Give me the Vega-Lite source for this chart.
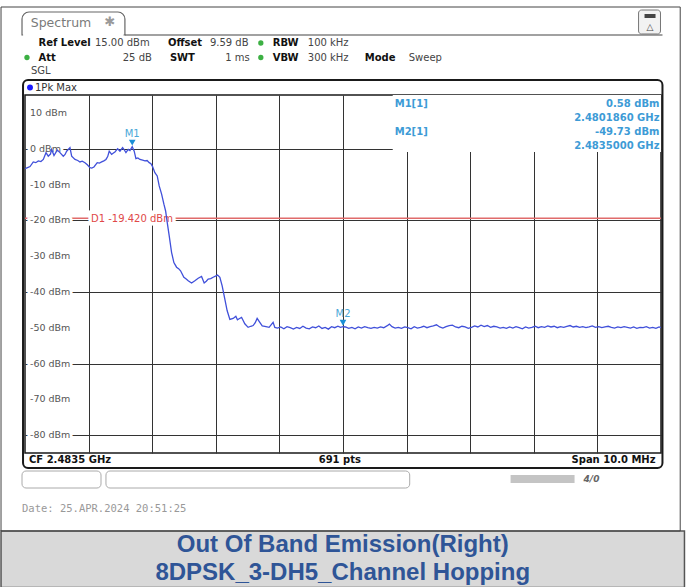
{
"$schema": "https://vega.github.io/schema/vega-lite/v6.json",
"width": 636, "height": 358,
"autosize": {"type": "none"},
"padding": {"left": 25, "top": 95, "right": 25, "bottom": 134},
"background": "white",
"config": {"view": {"stroke": "#1a1a1a", "strokeWidth": 1.5}, "text": {"font": "DejaVu Sans"}},
"data": {"values": [{}]},
"datasets": {
"trace": [
{"f":2478.500,"p":-5.6},{"f":2478.540,"p":-5.3},{"f":2478.579,"p":-5.0},{"f":2478.630,"p":-3.7},{"f":2478.670,"p":-3.9},{"f":2478.709,"p":-3.4},{"f":2478.750,"p":-3.6},{"f":2478.788,"p":-3.0},{"f":2478.830,"p":-1.1},{"f":2478.866,"p":-2.1},{"f":2478.900,"p":-1.5},{"f":2478.919,"p":-0.2},{"f":2478.956,"p":-1.9},{"f":2479.007,"p":-0.4},{"f":2479.050,"p":-1.1},{"f":2479.102,"p":-2.1},{"f":2479.130,"p":-1.6},{"f":2479.155,"p":-0.7},{"f":2479.207,"p":0.3},{"f":2479.234,"p":-2.1},{"f":2479.286,"p":-3.0},{"f":2479.330,"p":-3.3},{"f":2479.364,"p":-3.7},{"f":2479.400,"p":-3.5},{"f":2479.443,"p":-3.9},{"f":2479.480,"p":-4.5},{"f":2479.521,"p":-5.3},{"f":2479.550,"p":-5.4},{"f":2479.584,"p":-5.1},{"f":2479.636,"p":-3.9},{"f":2479.670,"p":-4.0},{"f":2479.705,"p":-3.7},{"f":2479.740,"p":-3.4},{"f":2479.773,"p":-3.0},{"f":2479.800,"p":-2.2},{"f":2479.824,"p":-0.7},{"f":2479.862,"p":-1.6},{"f":2479.890,"p":-1.2},{"f":2479.914,"p":-0.9},{"f":2479.957,"p":0.0},{"f":2479.993,"p":-0.7},{"f":2480.035,"p":0.3},{"f":2480.060,"p":-0.3},{"f":2480.087,"p":-1.1},{"f":2480.123,"p":-0.2},{"f":2480.150,"p":-0.5},{"f":2480.186,"p":0.58},{"f":2480.217,"p":-0.7},{"f":2480.244,"p":-2.8},{"f":2480.275,"p":-2.6},{"f":2480.307,"p":-3.0},{"f":2480.350,"p":-3.2},{"f":2480.385,"p":-3.4},{"f":2480.420,"p":-3.3},{"f":2480.453,"p":-3.9},{"f":2480.480,"p":-4.2},{"f":2480.506,"p":-5.0},{"f":2480.542,"p":-6.7},{"f":2480.579,"p":-7.6},{"f":2480.610,"p":-10.4},{"f":2480.648,"p":-12.7},{"f":2480.684,"p":-15.5},{"f":2480.711,"p":-17.4},{"f":2480.736,"p":-20.6},{"f":2480.767,"p":-24.3},{"f":2480.805,"p":-29.0},{"f":2480.841,"p":-31.8},{"f":2480.883,"p":-33.1},{"f":2480.915,"p":-33.5},{"f":2480.946,"p":-34.1},{"f":2480.998,"p":-35.9},{"f":2481.030,"p":-36.3},{"f":2481.066,"p":-36.9},{"f":2481.119,"p":-37.5},{"f":2481.171,"p":-36.9},{"f":2481.223,"p":-36.2},{"f":2481.276,"p":-35.7},{"f":2481.317,"p":-37.5},{"f":2481.350,"p":-37.0},{"f":2481.380,"p":-36.4},{"f":2481.420,"p":-36.3},{"f":2481.458,"p":-35.9},{"f":2481.528,"p":-35.3},{"f":2481.564,"p":-35.9},{"f":2481.600,"p":-38.3},{"f":2481.642,"p":-42.0},{"f":2481.678,"p":-45.2},{"f":2481.721,"p":-47.7},{"f":2481.773,"p":-47.4},{"f":2481.815,"p":-46.8},{"f":2481.840,"p":-47.8},{"f":2481.867,"p":-47.5},{"f":2481.905,"p":-47.1},{"f":2481.956,"p":-48.9},{"f":2482.008,"p":-49.9},{"f":2482.050,"p":-49.6},{"f":2482.087,"p":-49.4},{"f":2482.120,"p":-48.6},{"f":2482.150,"p":-47.4},{"f":2482.192,"p":-48.5},{"f":2482.230,"p":-49.5},{"f":2482.271,"p":-49.6},{"f":2482.338,"p":-49.9},{"f":2482.401,"p":-48.5},{"f":2482.428,"p":-49.9},
{"f":2482.47,"p":-50.1},{"f":2482.52,"p":-49.8},{"f":2482.57,"p":-50.3},{"f":2482.62,"p":-49.7},{"f":2482.67,"p":-50.0},{"f":2482.72,"p":-50.4},{"f":2482.77,"p":-49.9},{"f":2482.82,"p":-50.2},{"f":2482.87,"p":-49.6},{"f":2482.92,"p":-50.1},{"f":2482.97,"p":-50.3},{"f":2483.02,"p":-49.8},{"f":2483.07,"p":-50.0},{"f":2483.12,"p":-49.5},{"f":2483.17,"p":-50.2},{"f":2483.22,"p":-49.9},{"f":2483.27,"p":-50.4},{"f":2483.32,"p":-49.7},{"f":2483.37,"p":-50.0},{"f":2483.42,"p":-49.6},{"f":2483.46,"p":-49.9},{"f":2483.50,"p":-49.73},{"f":2483.54,"p":-49.8},{"f":2483.59,"p":-50.2},{"f":2483.64,"p":-49.9},{"f":2483.69,"p":-50.3},{"f":2483.74,"p":-49.8},{"f":2483.79,"p":-50.1},{"f":2483.84,"p":-49.7},{"f":2483.89,"p":-50.0},{"f":2483.94,"p":-50.2},{"f":2483.99,"p":-49.9},{"f":2484.04,"p":-50.1},{"f":2484.09,"p":-49.8},{"f":2484.14,"p":-50.0},{"f":2484.19,"p":-49.5},{"f":2484.23,"p":-49.0},{"f":2484.27,"p":-49.7},{"f":2484.32,"p":-50.1},{"f":2484.37,"p":-49.9},{"f":2484.42,"p":-50.2},{"f":2484.47,"p":-49.8},{"f":2484.52,"p":-50.0},{"f":2484.57,"p":-50.3},{"f":2484.62,"p":-49.7},{"f":2484.67,"p":-50.1},{"f":2484.72,"p":-49.9},{"f":2484.77,"p":-49.6},{"f":2484.82,"p":-50.0},{"f":2484.87,"p":-49.7},{"f":2484.92,"p":-49.5},{"f":2484.97,"p":-49.2},{"f":2485.02,"p":-49.8},{"f":2485.07,"p":-50.1},{"f":2485.12,"p":-49.7},{"f":2485.17,"p":-49.4},{"f":2485.22,"p":-49.3},{"f":2485.27,"p":-49.8},{"f":2485.32,"p":-50.0},{"f":2485.37,"p":-49.6},{"f":2485.42,"p":-49.8},{"f":2485.47,"p":-50.2},{"f":2485.52,"p":-49.9},{"f":2485.57,"p":-49.5},{"f":2485.62,"p":-49.8},{"f":2485.67,"p":-49.3},{"f":2485.72,"p":-49.7},{"f":2485.77,"p":-49.4},{"f":2485.82,"p":-49.9},{"f":2485.87,"p":-49.6},{"f":2485.92,"p":-49.8},{"f":2485.97,"p":-50.1},{"f":2486.02,"p":-49.9},{"f":2486.07,"p":-50.2},{"f":2486.12,"p":-49.8},{"f":2486.17,"p":-50.1},{"f":2486.22,"p":-49.7},{"f":2486.27,"p":-50.0},{"f":2486.32,"p":-50.3},{"f":2486.37,"p":-49.8},{"f":2486.42,"p":-50.1},{"f":2486.47,"p":-49.9},{"f":2486.52,"p":-49.6},{"f":2486.57,"p":-50.0},{"f":2486.62,"p":-49.7},{"f":2486.67,"p":-49.9},{"f":2486.72,"p":-49.5},{"f":2486.77,"p":-49.8},{"f":2486.82,"p":-49.6},{"f":2486.87,"p":-50.0},{"f":2486.92,"p":-49.7},{"f":2486.97,"p":-49.9},{"f":2487.02,"p":-49.6},{"f":2487.07,"p":-49.4},{"f":2487.12,"p":-49.8},{"f":2487.17,"p":-49.6},{"f":2487.22,"p":-49.9},{"f":2487.27,"p":-49.7},{"f":2487.32,"p":-50.0},{"f":2487.37,"p":-49.8},{"f":2487.42,"p":-49.5},{"f":2487.47,"p":-49.9},{"f":2487.52,"p":-49.7},{"f":2487.57,"p":-50.0},{"f":2487.62,"p":-49.8},{"f":2487.67,"p":-49.6},{"f":2487.72,"p":-49.9},{"f":2487.77,"p":-50.1},{"f":2487.82,"p":-49.8},{"f":2487.87,"p":-50.0},{"f":2487.92,"p":-49.7},{"f":2487.97,"p":-49.9},{"f":2488.02,"p":-50.1},{"f":2488.07,"p":-49.8},{"f":2488.12,"p":-50.2},{"f":2488.17,"p":-49.9},{"f":2488.22,"p":-50.0},{"f":2488.27,"p":-49.7},{"f":2488.32,"p":-50.1},{"f":2488.37,"p":-49.9},{"f":2488.42,"p":-50.2},{"f":2488.47,"p":-49.8},{"f":2488.50,"p":-50.0}
],
"ylabels": [{"lvl":10,"lab":"10 dBm"},{"lvl":0,"lab":"0 dBm"},{"lvl":-10,"lab":"-10 dBm"},{"lvl":-20,"lab":"-20 dBm"},{"lvl":-30,"lab":"-30 dBm"},{"lvl":-40,"lab":"-40 dBm"},{"lvl":-50,"lab":"-50 dBm"},{"lvl":-60,"lab":"-60 dBm"},{"lvl":-70,"lab":"-70 dBm"},{"lvl":-80,"lab":"-80 dBm"}],
"markers": [{"m":"M1","f":2480.186,"lvl":0.58},{"m":"M2","f":2483.5,"lvl":-49.73}]
},
"layer": [
{"mark": {"type": "rect", "fill": "#D9D9D9", "stroke": "#555", "strokeWidth": 1.5}, "encoding": {"x": {"datum": 2478.123}, "x2": {"datum": 2488.869}, "y": {"datum": -106.79}, "y2": {"datum": -122.6}}},
{"mark": {"type": "rect", "filled": false, "stroke": "#444", "strokeWidth": 1}, "encoding": {"x": {"datum": 2478.123}, "x2": {"datum": 2488.802}, "y": {"datum": 39.58}, "y2": {"datum": -106.79}}},
{"mark": {"type": "rect", "fill": "white", "stroke": "#666", "strokeWidth": 1.2, "cornerRadiusTopLeft": 7, "cornerRadiusTopRight": 7}, "encoding": {"x": {"datum": 2478.453}, "x2": {"datum": 2480.071}, "y": {"datum": 38.18}, "y2": {"datum": 31.76}}},
{"mark": {"type": "rule", "color": "white", "strokeWidth": 2}, "encoding": {"x": {"datum": 2478.47}, "x2": {"datum": 2480.05}, "y": {"datum": 31.76}}},
{"mark": {"type": "rule", "color": "#444", "strokeWidth": 1.2}, "encoding": {"x": {"datum": 2480.071}, "x2": {"datum": 2488.523}, "y": {"datum": 31.76}}},
{"mark": {"type": "text", "text": "✱", "fontSize": 13, "color": "#9a9a9a", "align": "center", "baseline": "middle"}, "encoding": {"x": {"datum": 2479.835}, "y": {"datum": 35.39}}},
{"mark": {"type": "rect", "fill": "#f2f2f2", "stroke": "#777", "strokeWidth": 1, "cornerRadius": 3}, "encoding": {"x": {"datum": 2488.147}, "x2": {"datum": 2488.492}, "y": {"datum": 38.74}, "y2": {"datum": 32.04}}},
{"mark": {"type": "rect", "fill": "#444"}, "encoding": {"x": {"datum": 2488.241}, "x2": {"datum": 2488.414}, "y": {"datum": 37.63}, "y2": {"datum": 36.51}}},
{"mark": {"type": "text", "text": "△", "fontSize": 9, "color": "#444", "align": "center", "baseline": "middle"}, "encoding": {"x": {"datum": 2488.327}, "y": {"datum": 34.0}}},
{"mark": {"type": "text", "text": "Spectrum", "fontSize": 12.5, "color": "#7a7a7a", "align": "left", "baseline": "middle"}, "encoding": {"x": {"datum": 2478.59}, "y": {"datum": 35.11}}},
{"mark": {"type": "text", "text": "Ref Level", "fontSize": 10, "fontWeight": "bold", "color": "#111", "align": "left", "baseline": "middle"}, "encoding": {"x": {"datum": 2478.712}, "y": {"datum": 29.53}}},
{"mark": {"type": "text", "text": "15.00 dBm", "fontSize": 10, "color": "#444", "align": "left", "baseline": "middle"}, "encoding": {"x": {"datum": 2479.6}, "y": {"datum": 29.53}}},
{"mark": {"type": "text", "text": "Offset", "fontSize": 10, "fontWeight": "bold", "color": "#111", "align": "left", "baseline": "middle"}, "encoding": {"x": {"datum": 2480.747}, "y": {"datum": 29.53}}},
{"mark": {"type": "text", "text": "9.59 dB", "fontSize": 10, "color": "#444", "align": "left", "baseline": "middle"}, "encoding": {"x": {"datum": 2481.407}, "y": {"datum": 29.53}}},
{"mark": {"type": "point", "shape": "circle", "filled": true, "color": "#3CB043", "size": 28, "opacity": 1}, "encoding": {"x": {"datum": 2482.208}, "y": {"datum": 29.53}}},
{"mark": {"type": "text", "text": "RBW", "fontSize": 10, "fontWeight": "bold", "color": "#111", "align": "left", "baseline": "middle"}, "encoding": {"x": {"datum": 2482.396}, "y": {"datum": 29.53}}},
{"mark": {"type": "text", "text": "100 kHz", "fontSize": 10, "color": "#444", "align": "left", "baseline": "middle"}, "encoding": {"x": {"datum": 2482.946}, "y": {"datum": 29.53}}},
{"mark": {"type": "point", "shape": "circle", "filled": true, "color": "#3CB043", "size": 28, "opacity": 1}, "encoding": {"x": {"datum": 2478.531}, "y": {"datum": 25.47}}},
{"mark": {"type": "text", "text": "Att", "fontSize": 10, "fontWeight": "bold", "color": "#111", "align": "left", "baseline": "middle"}, "encoding": {"x": {"datum": 2478.712}, "y": {"datum": 25.47}}},
{"mark": {"type": "text", "text": "25 dB", "fontSize": 10, "color": "#444", "align": "right", "baseline": "middle"}, "encoding": {"x": {"datum": 2480.495}, "y": {"datum": 25.47}}},
{"mark": {"type": "text", "text": "SWT", "fontSize": 10, "fontWeight": "bold", "color": "#111", "align": "left", "baseline": "middle"}, "encoding": {"x": {"datum": 2480.778}, "y": {"datum": 25.47}}},
{"mark": {"type": "text", "text": "1 ms", "fontSize": 10, "color": "#444", "align": "right", "baseline": "middle"}, "encoding": {"x": {"datum": 2482.035}, "y": {"datum": 25.47}}},
{"mark": {"type": "point", "shape": "circle", "filled": true, "color": "#3CB043", "size": 28, "opacity": 1}, "encoding": {"x": {"datum": 2482.208}, "y": {"datum": 25.47}}},
{"mark": {"type": "text", "text": "VBW", "fontSize": 10, "fontWeight": "bold", "color": "#111", "align": "left", "baseline": "middle"}, "encoding": {"x": {"datum": 2482.396}, "y": {"datum": 25.47}}},
{"mark": {"type": "text", "text": "300 kHz", "fontSize": 10, "color": "#444", "align": "left", "baseline": "middle"}, "encoding": {"x": {"datum": 2482.946}, "y": {"datum": 25.47}}},
{"mark": {"type": "text", "text": "Mode", "fontSize": 10, "fontWeight": "bold", "color": "#111", "align": "left", "baseline": "middle"}, "encoding": {"x": {"datum": 2483.842}, "y": {"datum": 25.47}}},
{"mark": {"type": "text", "text": "Sweep", "fontSize": 10, "color": "#444", "align": "left", "baseline": "middle"}, "encoding": {"x": {"datum": 2484.533}, "y": {"datum": 25.47}}},
{"mark": {"type": "text", "text": "SGL", "fontSize": 10, "color": "#444", "align": "left", "baseline": "middle"}, "encoding": {"x": {"datum": 2478.594}, "y": {"datum": 21.7}}},
{"mark": {"type": "rect", "filled": false, "stroke": "#1a1a1a", "strokeWidth": 2, "cornerRadius": 5}, "encoding": {"x": {"datum": 2478.469}, "x2": {"datum": 2488.523}, "y": {"datum": 19.19}, "y2": {"datum": -89.19}}},
{"mark": {"type": "point", "shape": "circle", "filled": true, "color": "#1a1aff", "size": 35, "opacity": 1}, "encoding": {"x": {"datum": 2478.579}, "y": {"datum": 17.09}}},
{"mark": {"type": "text", "text": "1Pk Max", "fontSize": 10, "color": "#333", "align": "left", "baseline": "middle"}, "encoding": {"x": {"datum": 2478.657}, "y": {"datum": 17.09}}},
{"mark": {"type": "rect", "fill": "white"}, "encoding": {"x": {"datum": 2484.282}, "x2": {"datum": 2488.5}, "y": {"datum": -0.92}, "y2": {"datum": 15}}},
{"mark": {"type": "rule", "color": "#E06B6B", "strokeWidth": 1.6}, "encoding": {"y": {"datum": -19.42}}},
{"data": {"name": "ylabels"}, "mark": {"type": "text", "fontSize": 9.5, "fill": "white", "stroke": "white", "strokeWidth": 6, "align": "left", "baseline": "middle"}, "encoding": {"x": {"datum": 2478.579}, "y": {"field": "lvl", "type": "quantitative"}, "text": {"field": "lab"}}},
{"data": {"name": "ylabels"}, "mark": {"type": "text", "fontSize": 9.5, "color": "#555", "align": "left", "baseline": "middle"}, "encoding": {"x": {"datum": 2478.579}, "y": {"field": "lvl", "type": "quantitative"}, "text": {"field": "lab"}}},
{"mark": {"type": "text", "text": "D1  -19.420 dBm", "fontSize": 10, "fill": "white", "stroke": "white", "strokeWidth": 7, "align": "left", "baseline": "middle"}, "encoding": {"x": {"datum": 2479.537}, "y": {"datum": -19.6}}},
{"mark": {"type": "text", "text": "D1  -19.420 dBm", "fontSize": 10, "color": "#E04848", "align": "left", "baseline": "middle"}, "encoding": {"x": {"datum": 2479.537}, "y": {"datum": -19.6}}},
{"data": {"name": "trace"}, "mark": {"type": "line", "color": "#4050DA", "strokeWidth": 1.3, "clip": true},
 "encoding": {
  "x": {"field": "f", "type": "quantitative", "scale": {"domain": [2478.5, 2488.5], "nice": false, "zero": false},
        "axis": {"values": [2479.5, 2480.5, 2481.5, 2482.5, 2483.5, 2484.5, 2485.5, 2486.5, 2487.5], "labels": false, "ticks": false, "domain": false, "grid": true, "gridColor": "#333", "gridWidth": 1, "gridOpacity": 1, "title": null}},
  "y": {"field": "p", "type": "quantitative", "scale": {"domain": [-85, 15], "nice": false, "zero": false},
        "axis": {"values": [-80, -70, -60, -50, -40, -30, -20, -10, 0, 10], "labels": false, "ticks": false, "domain": false, "grid": true, "gridColor": "#333", "gridWidth": 1, "gridOpacity": 1, "title": null}}
 }},
{"data": {"name": "markers"}, "mark": {"type": "point", "shape": "triangle-down", "filled": true, "color": "#1B8FD6", "size": 45, "opacity": 1, "yOffset": -4}, "encoding": {"x": {"field": "f", "type": "quantitative"}, "y": {"field": "lvl", "type": "quantitative"}}},
{"data": {"name": "markers"}, "mark": {"type": "text", "fontSize": 10, "color": "#4AA8D8", "align": "center", "baseline": "middle", "yOffset": -13}, "encoding": {"x": {"field": "f", "type": "quantitative"}, "y": {"field": "lvl", "type": "quantitative"}, "text": {"field": "m"}}},
{"mark": {"type": "text", "text": "M1[1]", "fontSize": 10, "fontWeight": "bold", "color": "#3D9BD6", "align": "left", "baseline": "middle"}, "encoding": {"x": {"datum": 2484.313}, "y": {"datum": 12.49}}},
{"mark": {"type": "text", "text": "0.58 dBm", "fontSize": 10, "fontWeight": "bold", "color": "#3D9BD6", "align": "right", "baseline": "middle"}, "encoding": {"x": {"datum": 2488.476}, "y": {"datum": 12.49}}},
{"mark": {"type": "text", "text": "2.4801860 GHz", "fontSize": 10, "fontWeight": "bold", "color": "#3D9BD6", "align": "right", "baseline": "middle"}, "encoding": {"x": {"datum": 2488.476}, "y": {"datum": 8.58}}},
{"mark": {"type": "text", "text": "M2[1]", "fontSize": 10, "fontWeight": "bold", "color": "#3D9BD6", "align": "left", "baseline": "middle"}, "encoding": {"x": {"datum": 2484.313}, "y": {"datum": 4.66}}},
{"mark": {"type": "text", "text": "-49.73 dBm", "fontSize": 10, "fontWeight": "bold", "color": "#3D9BD6", "align": "right", "baseline": "middle"}, "encoding": {"x": {"datum": 2488.476}, "y": {"datum": 4.66}}},
{"mark": {"type": "text", "text": "2.4835000 GHz", "fontSize": 10, "fontWeight": "bold", "color": "#3D9BD6", "align": "right", "baseline": "middle"}, "encoding": {"x": {"datum": 2488.476}, "y": {"datum": 0.75}}},
{"mark": {"type": "text", "text": "CF 2.4835 GHz", "fontSize": 10, "fontWeight": "bold", "color": "#111", "align": "left", "baseline": "middle"}, "encoding": {"x": {"datum": 2478.563}, "y": {"datum": -86.96}}},
{"mark": {"type": "text", "text": "691 pts", "fontSize": 10, "fontWeight": "bold", "color": "#111", "align": "center", "baseline": "middle"}, "encoding": {"x": {"datum": 2483.45}, "y": {"datum": -86.96}}},
{"mark": {"type": "text", "text": "Span 10.0 MHz", "fontSize": 10, "fontWeight": "bold", "color": "#111", "align": "right", "baseline": "middle"}, "encoding": {"x": {"datum": 2488.414}, "y": {"datum": -86.96}}},
{"mark": {"type": "rect", "filled": false, "stroke": "#aaa", "strokeWidth": 1, "cornerRadius": 4}, "encoding": {"x": {"datum": 2478.453}, "x2": {"datum": 2479.695}, "y": {"datum": -90.03}, "y2": {"datum": -94.78}}},
{"mark": {"type": "rect", "filled": false, "stroke": "#aaa", "strokeWidth": 1, "cornerRadius": 4}, "encoding": {"x": {"datum": 2479.773}, "x2": {"datum": 2484.549}, "y": {"datum": -90.03}, "y2": {"datum": -94.78}}},
{"mark": {"type": "rect", "fill": "#c4c4c4"}, "encoding": {"x": {"datum": 2486.135}, "x2": {"datum": 2487.141}, "y": {"datum": -91.15}, "y2": {"datum": -93.38}}},
{"mark": {"type": "text", "text": "4/0", "fontSize": 9, "fontWeight": "bold", "fontStyle": "italic", "color": "#666", "align": "left", "baseline": "middle"}, "encoding": {"x": {"datum": 2487.283}, "y": {"datum": -92.26}}},
{"mark": {"type": "text", "text": "Date: 25.APR.2024  20:51:25", "font": "DejaVu Sans Mono", "fontSize": 10.5, "color": "#999", "align": "left", "baseline": "middle"}, "encoding": {"x": {"datum": 2478.453}, "y": {"datum": -100.64}}},
{"mark": {"type": "text", "text": "Out Of Band Emission(Right)", "font": "Liberation Sans", "fontSize": 24, "fontWeight": "bold", "color": "#2F5597", "align": "center", "baseline": "middle"}, "encoding": {"x": {"datum": 2483.496}, "y": {"datum": -110.7}}},
{"mark": {"type": "text", "text": "8DPSK_3-DH5_Channel Hopping", "font": "Liberation Sans", "fontSize": 24, "fontWeight": "bold", "color": "#2F5597", "align": "center", "baseline": "middle"}, "encoding": {"x": {"datum": 2483.496}, "y": {"datum": -118.52}}}
]
}
